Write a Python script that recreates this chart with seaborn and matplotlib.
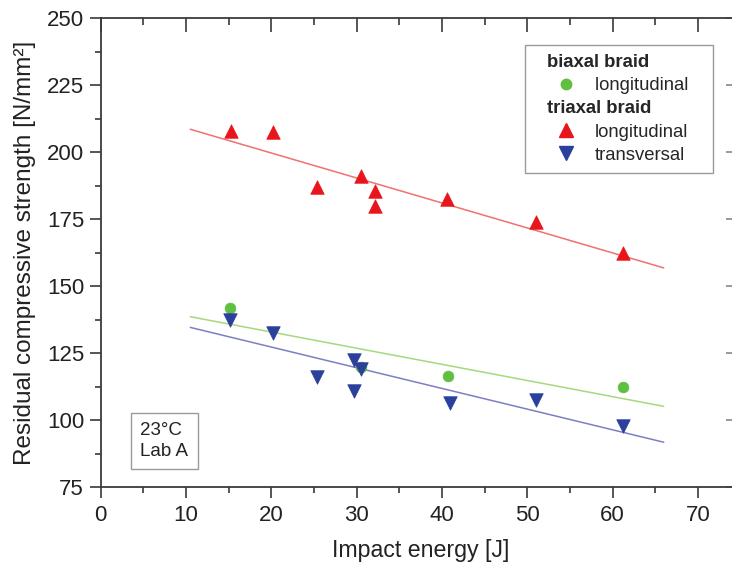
import numpy as np
import pandas as pd
import matplotlib
matplotlib.use("Agg")
import matplotlib.pyplot as plt
import matplotlib.transforms as mtransforms
from matplotlib.lines import Line2D
from matplotlib.ticker import MultipleLocator, NullFormatter
import seaborn as sns

# ---- data ----
biaxial_long_x = [15.2, 30.5, 40.7, 61.2]
biaxial_long_y = [142.0, 120.0, 116.5, 112.5]

triaxial_long_x = [15.3, 20.2, 25.4, 30.5, 32.1, 32.1, 40.6, 51.0, 61.2]
triaxial_long_y = [208.0, 207.5, 187.0, 191.0, 185.5, 180.0, 182.5, 174.0, 162.5]

triaxial_trans_x = [15.2, 20.2, 25.3, 29.7, 30.5, 29.7, 40.9, 51.0, 61.2]
triaxial_trans_y = [137.5, 132.5, 116.0, 122.5, 119.0, 111.0, 106.5, 107.5, 98.0]

fit_range = [10.5, 66.0]

x_ticks = [0, 10, 20, 30, 40, 50, 60, 70]
y_ticks = [75, 100, 125, 150, 175, 200, 225, 250]

legend_labels = ["biaxal braid", "longitudinal", "triaxal braid",
                 "longitudinal", "transversal"]

col_green = "#5fbf3f"
col_red = "#e8161c"
col_blue = "#2b3f9c"
fit_green = "#a6d97c"
fit_red = "#f07070"
fit_blue = "#7d7fc4"

sns.set_style("ticks")
plt.rcParams["font.family"] = ["Liberation Sans", "DejaVu Sans"]

fig = plt.figure(figsize=(7.32, 5.67), dpi=100)
ax = fig.add_axes([100.7 / 732, 1 - 487.3 / 567, 639.8 / 732, 469 / 567])


def fit_df(xs, ys):
    k, d = np.polyfit(xs, ys, 1)
    fx = np.array(fit_range)
    return pd.DataFrame({"x": fx, "y": k * fx + d})


for xs, ys, c in [(biaxial_long_x, biaxial_long_y, fit_green),
                  (triaxial_long_x, triaxial_long_y, fit_red),
                  (triaxial_trans_x, triaxial_trans_y, fit_blue)]:
    d = fit_df(xs, ys)
    sns.lineplot(data=d, x="x", y="y", color=c, lw=1.1, ax=ax, zorder=2)

df_b = pd.DataFrame({"x": biaxial_long_x, "y": biaxial_long_y})
df_tl = pd.DataFrame({"x": triaxial_long_x, "y": triaxial_long_y})
df_tt = pd.DataFrame({"x": triaxial_trans_x, "y": triaxial_trans_y})

sns.scatterplot(data=df_tl, x="x", y="y", marker="^", s=95, color=col_red,
                edgecolor=col_red, linewidth=0.5, ax=ax, zorder=3)
sns.scatterplot(data=df_b, x="x", y="y", marker="o", s=60, color=col_green,
                edgecolor=col_green, linewidth=0.5, ax=ax, zorder=3)
sns.scatterplot(data=df_tt, x="x", y="y", marker="v", s=95, color=col_blue,
                edgecolor=col_blue, linewidth=0.5, ax=ax, zorder=3)

ax.set_xlim(0, 75)
ax.set_ylim(75, 250)
ax.set_xticks(x_ticks)
ax.set_yticks(y_ticks)
ax.xaxis.set_minor_locator(MultipleLocator(5))
ax.yaxis.set_minor_locator(MultipleLocator(12.5))

spine_col = "#3a3a3a"
for s in ax.spines.values():
    s.set_visible(True)
    s.set_color(spine_col)
    s.set_linewidth(1.3)

ax.tick_params(axis="both", which="major", labelsize=16, colors=spine_col,
               labelcolor="#222222", width=1.2, length=8, direction="out",
               top=False, right=False)
ax.tick_params(axis="both", which="minor", colors=spine_col, width=1.2,
               length=4.5, direction="out", top=False, right=False)
ax.tick_params(axis="x", which="major", pad=5)
ax.tick_params(axis="y", which="major", pad=4)

# inward ticks on top and right spines
sec_x = ax.secondary_xaxis("top")
sec_x.set_xticks(x_ticks)
sec_x.xaxis.set_minor_locator(MultipleLocator(5))
sec_x.xaxis.set_major_formatter(NullFormatter())
sec_x.tick_params(which="major", direction="in", length=10, width=1.2,
                  colors=spine_col)
sec_x.tick_params(which="minor", direction="in", length=5, width=1.2,
                  colors=spine_col)
sec_x.spines["top"].set_visible(False)
sec_y = ax.secondary_yaxis("right")
sec_y.set_yticks(y_ticks)
sec_y.yaxis.set_major_formatter(NullFormatter())
sec_y.tick_params(which="major", direction="in", length=11, width=1.2,
                  colors="#888888")
sec_y.spines["right"].set_visible(False)

ax.set_xlabel("Impact energy [J]", fontsize=16.7, color="#222222",
              labelpad=9)
ax.set_ylabel("Residual compressive strength [N/mm²]", fontsize=17.5,
              color="#222222", labelpad=8)

# legend
blank = Line2D([], [], linestyle="none", marker=None)
handles = [
    blank,
    Line2D([], [], linestyle="none", marker="o", markersize=7.5,
           color=col_green),
    blank,
    Line2D([], [], linestyle="none", marker="^", markersize=9.5,
           color=col_red),
    Line2D([], [], linestyle="none", marker="v", markersize=9.5,
           color=col_blue),
]
leg_labels = list(legend_labels)
leg_labels[1] = leg_labels[1] + "   "
leg = ax.legend(handles, leg_labels, loc="upper right",
                bbox_to_anchor=(0.957, 0.943), borderaxespad=0,
                fontsize=13.3, frameon=True, fancybox=False,
                edgecolor="#9a9a9a", framealpha=1, handlelength=3.45,
                handletextpad=-0.16, labelspacing=0.33, borderpad=0.5)
leg.get_frame().set_linewidth(1.0)
for i in (0, 2):
    t = leg.get_texts()[i]
    t.set_fontweight("bold")
    t.set_transform(t.get_transform() +
                    mtransforms.ScaledTranslation(-0.48, 0,
                                                  fig.dpi_scale_trans))

ax.text(0.062, 0.058, "23°C\nLab A", transform=ax.transAxes, fontsize=13.5,
        ha="left", va="bottom", color="#222222", linespacing=1.3,
        bbox=dict(boxstyle="square,pad=0.5", fc="white", ec="#9a9a9a",
                  lw=1.0))

fig.savefig("out.png", dpi=100)
